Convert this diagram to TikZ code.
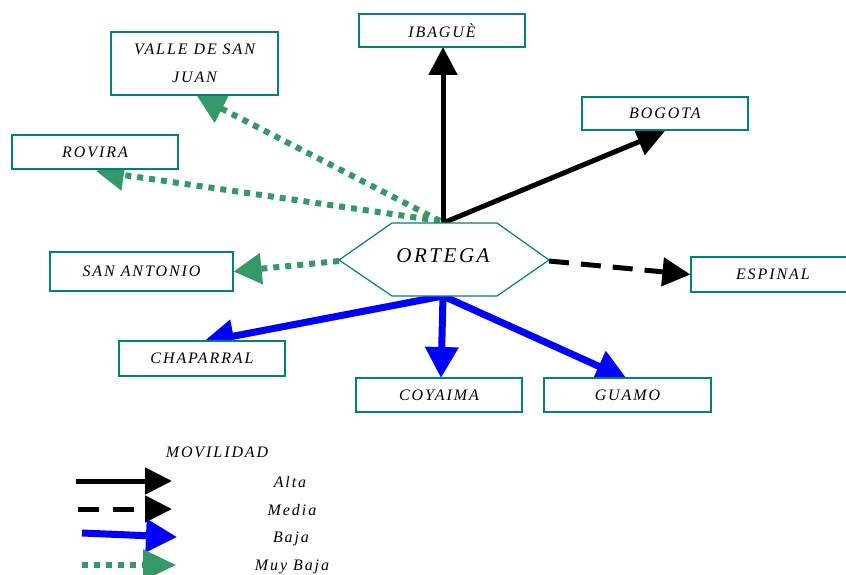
\documentclass[tikz,border=0pt]{standalone}
\usepackage{fontspec}
\newfontfamily\labfont{Liberation Serif}[LetterSpace=12.0]
\usetikzlibrary{arrows.meta}
\definecolor{boxc}{RGB}{0,128,128}
\definecolor{grn}{RGB}{51,153,102}
\pgfdeclarelayer{bg}
\pgfsetlayers{bg,main}
\tikzset{
 place/.style={draw=boxc, line width=1.2pt, fill=white, inner sep=0pt, anchor=center,
   font=\labfont\itshape\fontsize{16}{28}\selectfont, align=center},
 legtext/.style={font=\labfont\itshape\fontsize{16}{18}\selectfont, anchor=center},
 alta/.style={draw=black, line width=5pt, -{Triangle[length=28pt,width=28pt]}},
 media/.style={draw=black, line width=5pt, dash pattern=on 20pt off 12pt, -{Triangle[length=28pt,width=28pt]}},
 baja/.style={draw=blue, line width=7pt, -{Triangle[length=31pt,width=32pt]}},
 muybaja/.style={draw=grn, line width=6pt, dash pattern=on 6pt off 6pt, -{Triangle[length=28pt,width=30pt]}},
}
\begin{document}
\begin{tikzpicture}[x=1pt,y=-1pt]
\useasboundingbox (0,0) rectangle (846,575);
% hexagon corners
\coordinate (h1) at (339,260);
\coordinate (h2) at (392,223);
\coordinate (h3) at (497,223);
\coordinate (h4) at (549,260);
\coordinate (h5) at (497,296);
\coordinate (h6) at (392,296);
\coordinate (otop) at (443,223);
\coordinate (ogtop) at (440,221);
\coordinate (obot) at (443,296);
\coordinate (oleft) at (339,261);
\coordinate (oright) at (549,261);
% arrow tips
\coordinate (tIbague) at (443,47);
\coordinate (tValle) at (197,96);
\coordinate (tRovira) at (96,171);
\coordinate (tBogota) at (665,131);
\coordinate (tChap) at (203,342);
\coordinate (tCoy) at (441,378);
\coordinate (tGuamo) at (627,379);
% boxes
\node[place, minimum width=166pt, minimum height=33pt] (ibague) at (442,30.5) {IBAGUÈ};
\node[place, minimum width=167pt, minimum height=63pt] (valle) at (194.5,63.5) {VALLE DE SAN\\JUAN};
\node[place, minimum width=166pt, minimum height=33pt] (bogota) at (665,113.5) {BOGOTA};
\node[place, minimum width=166pt, minimum height=34pt] (rovira) at (95,152) {ROVIRA};
\node[place, minimum width=183pt, minimum height=39pt] (sanantonio) at (141.5,271.5) {SAN ANTONIO};
\node[place, minimum width=165pt, minimum height=35pt, text width=155pt, align=left] (espinal) at (773.5,274.5) {\hspace*{40pt}ESPINAL};
\node[place, minimum width=166pt, minimum height=35pt] (chaparral) at (202,358.5) {CHAPARRAL};
\node[place, minimum width=166pt, minimum height=34pt] (coyaima) at (439,395) {COYAIMA};
\node[place, minimum width=167pt, minimum height=34pt] (guamo) at (627.5,395) {GUAMO};
% hexagon
\draw[draw=boxc, line width=1.2pt, fill=white] (h1) -- (h2) -- (h3) -- (h4) -- (h5) -- (h6) -- cycle;
\node[font=\labfont\itshape\fontsize{21}{24}\selectfont] (ortega) at (443,256) {ORTEGA};
% connectors
\begin{pgfonlayer}{bg}
\draw[alta] (otop) -- (tIbague);
\draw[alta] (otop) -- (tBogota);
\draw[media] (oright) -- (espinal.west);
\draw[muybaja] (ogtop) -- (tValle);
\draw[muybaja] (ogtop) -- (tRovira);
\draw[muybaja] (oleft) -- (sanantonio.east);
\draw[baja] (obot) -- (tChap);
\draw[baja] (obot) -- (tCoy);
\draw[baja] (obot) -- (tGuamo);
\end{pgfonlayer}
% legend
\node[legtext] (leg) at (217,452) {MOVILIDAD};
\coordinate (la1) at (76,481);
\coordinate (la2) at (172,481);
\coordinate (lm1) at (78,509);
\coordinate (lm2) at (172,509);
\coordinate (lb1) at (82,533);
\coordinate (lb2) at (177,537);
\coordinate (lg1) at (82,565);
\coordinate (lg2) at (176,565);
\draw[alta, -{Triangle[length=27pt,width=26pt]}] (la1) -- (la2);
\draw[media, dash pattern=on 21pt off 14pt, -{Triangle[length=27pt,width=26pt]}] (lm1) -- (lm2);
\draw[baja] (lb1) -- (lb2);
\draw[muybaja, -{Triangle[length=33pt,width=30pt]}] (lg1) -- (lg2);
\node[legtext] (lalta) at (290,482) {Alta};
\node[legtext] (lmedia) at (292,510) {Media};
\node[legtext] (lbaja) at (291,539) {Baja};
\node[legtext] (lmuy) at (292,567) {Muy Baja};
\end{tikzpicture}
\end{document}
